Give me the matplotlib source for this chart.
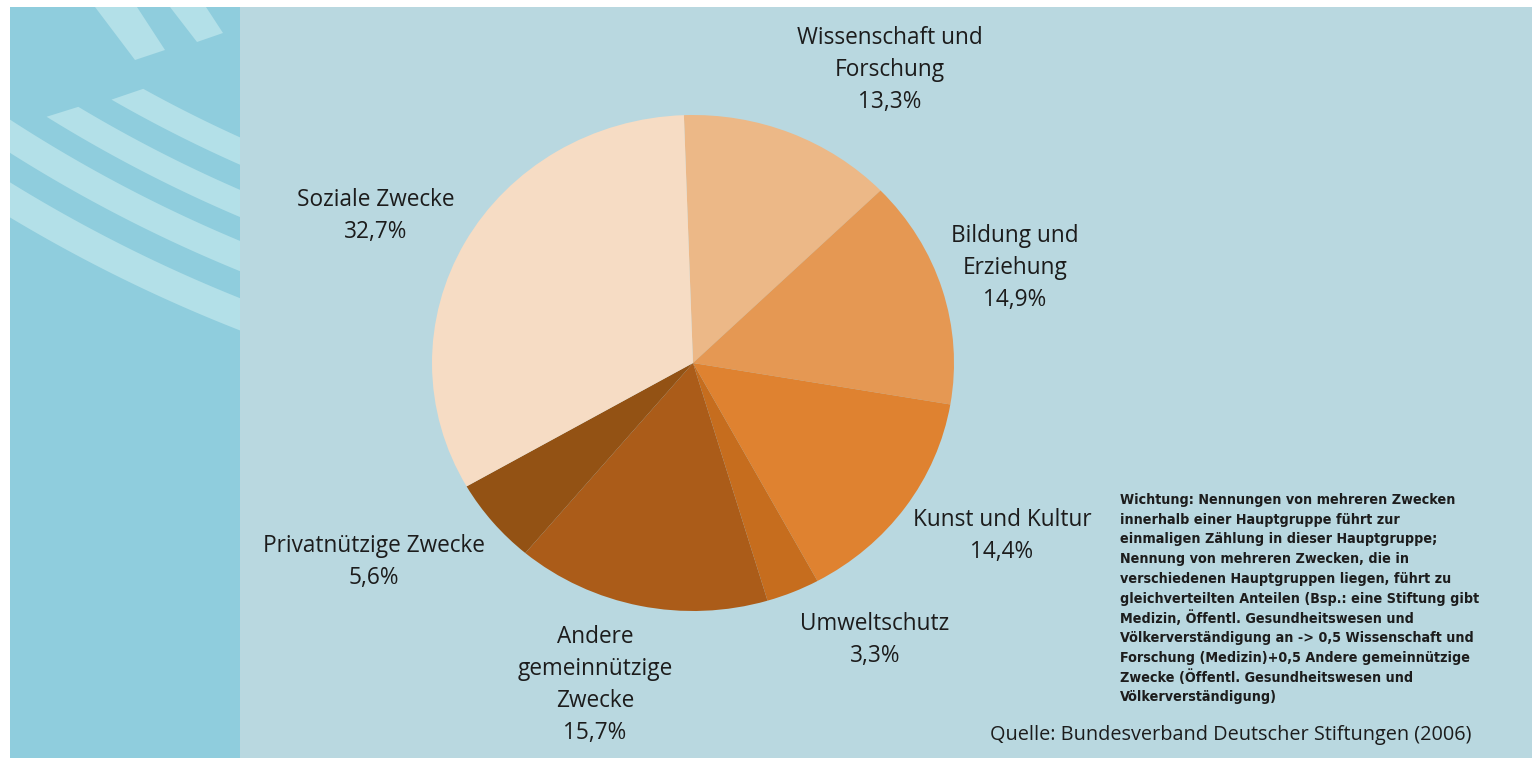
import numpy as np
import matplotlib
matplotlib.use("Agg")
import matplotlib.pyplot as plt
from matplotlib.patches import Rectangle, Polygon

# ---------------- data ----------------
categories = ["Wissenschaft und\nForschung", "Bildung und\nErziehung", "Kunst und Kultur",
              "Umweltschutz", "Andere\ngemeinnützige\nZwecke", "Privatnützige Zwecke",
              "Soziale Zwecke"]
values = [13.3, 14.9, 14.4, 3.3, 15.7, 5.6, 32.7]
colors = ["#ecb887", "#e59853", "#df8230", "#c66d1e", "#ab5c19", "#935214", "#f6dcc4"]

footnote = [
    "Wichtung: Nennungen von mehreren Zwecken",
    "innerhalb einer Hauptgruppe führt zur",
    "einmaligen Zählung in dieser Hauptgruppe;",
    "Nennung von mehreren Zwecken, die in",
    "verschiedenen Hauptgruppen liegen, führt zu",
    "gleichverteilten Anteilen (Bsp.: eine Stiftung gibt",
    "Medizin, Öffentl. Gesundheitswesen und",
    "Völkerverständigung an -> 0,5 Wissenschaft und",
    "Forschung (Medizin)+0,5 Andere gemeinnützige",
    "Zwecke (Öffentl. Gesundheitswesen und",
    "Völkerverständigung)",
]
source = "Quelle: Bundesverband Deutscher Stiftungen (2006)"

# ---------------- layout ----------------
W, H = 1532, 758
fig = plt.figure(figsize=(W / 100, H / 100), dpi=100)
fig.patch.set_facecolor("white")

bg = fig.add_axes([0, 0, 1, 1])
bg.set_xlim(0, W)
bg.set_ylim(H, 0)
bg.axis("off")

MAIN = "#b9d8e0"
STRIP = "#8fcddd"
ARC = "#b3e0e8"
TXT = "#1c1c1c"

bg.add_patch(Rectangle((240, 7), W - 240, H - 7, facecolor=MAIN, edgecolor="none", zorder=1))
strip = Rectangle((10, 7), 230, H - 7, facecolor=STRIP, edgecolor="none", zorder=1)
bg.add_patch(strip)

# decorative arcs (background ornament)
cx, cy = 795.0, -1090.0

def band(r_in, r_out, p_out=None, p_in=None, t_end=np.deg2rad(100)):
    if p_out is None:
        t_out0 = t_in0 = np.deg2rad(130)
    else:
        t_out0 = np.arctan2(p_out[1] - cy, p_out[0] - cx)
        t_in0 = np.arctan2(p_in[1] - cy, p_in[0] - cx)
    to = np.linspace(t_out0, t_end, 200)
    ti = np.linspace(t_end, t_in0, 200)
    xs = np.concatenate([cx + r_out * np.cos(to), cx + r_in * np.cos(ti)])
    ys = np.concatenate([cy + r_out * np.sin(to), cy + r_in * np.sin(ti)])
    return np.column_stack([xs, ys])

shapes = [
    band(1495, 1525),
    band(1442, 1470),
    band(1395, 1420, p_out=(52, 108), p_in=(83, 99)),
    band(1347, 1372, p_out=(117, 90), p_in=(147, 82)),
    np.array([(95, 7), (137, 7), (165, 50), (135, 60)]),
    np.array([(170, 7), (206, 7), (223, 33), (197, 42)]),
]
for s in shapes:
    p = Polygon(s, closed=True, facecolor=ARC, edgecolor="none", zorder=2)
    bg.add_patch(p)
    p.set_clip_path(strip)

# ---------------- pie ----------------
px0, px1, py0, py1 = 432, 954, 115, 611
pax = fig.add_axes([px0 / W, (H - py1) / H, (px1 - px0) / W, (py1 - py0) / H])
pax.pie(values, colors=colors, startangle=92, counterclock=False,
        wedgeprops=dict(linewidth=0))
pax.set_aspect("auto")
pax.set_xlim(-1, 1)
pax.set_ylim(-1, 1)
pax.axis("off")

# ---------------- labels ----------------
FONT = ["Open Sans", "DejaVu Sans"]
FS = 16.3
PITCH = 32
label_pos = [(890, 38), (1015, 236), (1002, 520), (875, 624), (595, 637), (374, 546), (376, 200)]

def pct(v):
    return f"{v:.1f}".replace(".", ",") + "%"

for cat, v, (x, y0) in zip(categories, values, label_pos):
    lines = cat.split("\n") + [pct(v)]
    for i, ln in enumerate(lines):
        bg.text(x, y0 + i * PITCH, ln, ha="center", va="center", fontsize=FS,
                family=FONT, color=TXT, zorder=5)

for i, ln in enumerate(footnote):
    bg.text(1120, 500 + i * 19.7, ln, ha="left", va="center", fontsize=10.3,
            family=["DejaVu Sans"], fontstretch="condensed", fontweight="bold",
            color=TXT, zorder=5)

bg.text(990, 735, source, ha="left", va="center", fontsize=14.3, family=FONT,
        color=TXT, zorder=5)

fig.savefig("out.png", dpi=100, facecolor=fig.get_facecolor())
